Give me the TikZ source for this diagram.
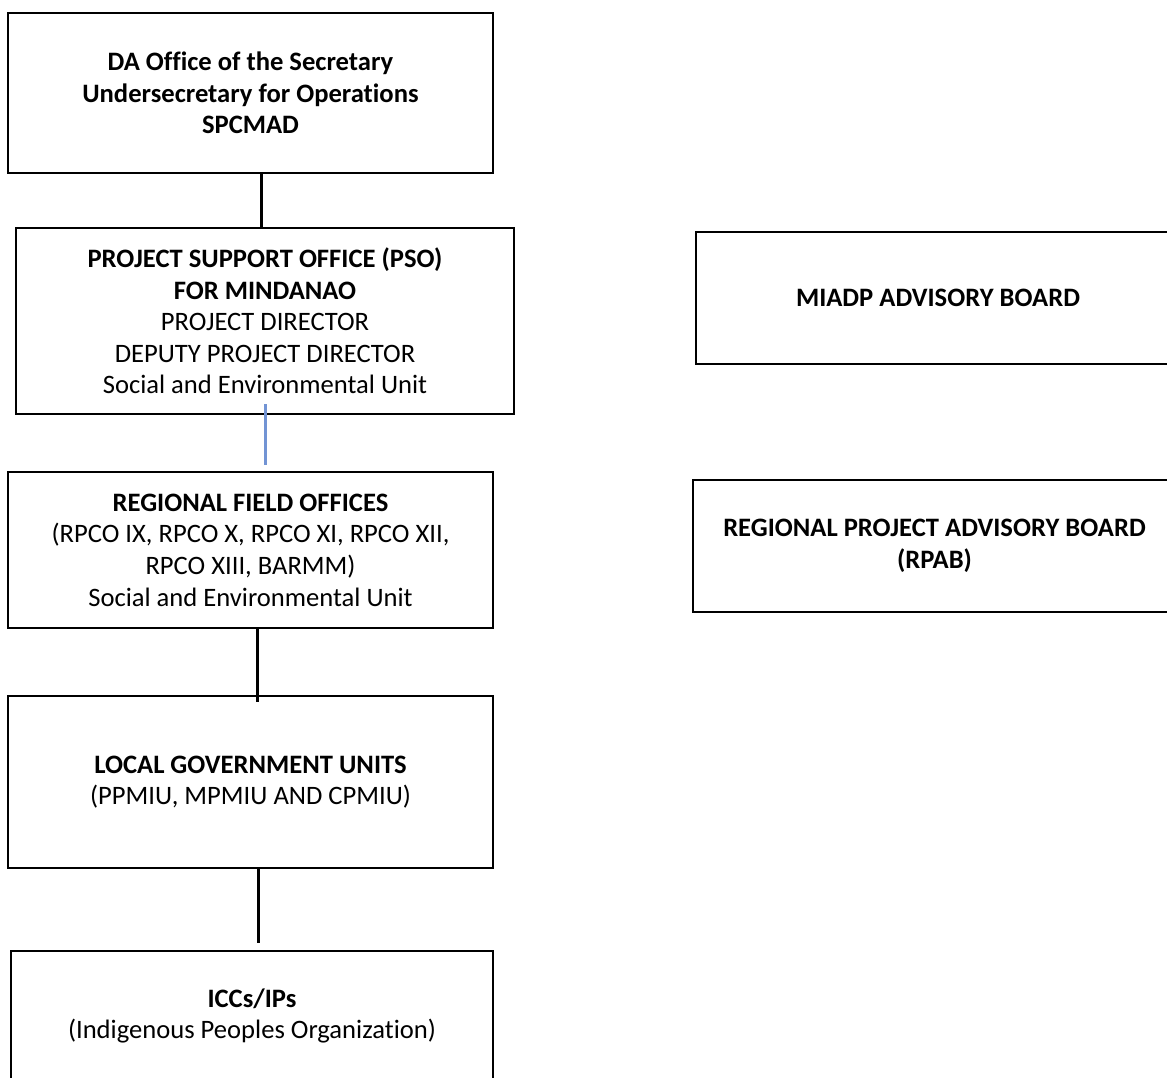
\documentclass[tikz,border=0pt]{standalone}
\usepackage{fontspec}
\setmainfont{Carlito}[Ligatures=NoCommon]
\definecolor{linkblue}{RGB}{114,148,212}
\begin{document}
\begin{tikzpicture}[
        x=0.5pt, y=-0.5pt,
        orgbox/.style={draw, line width=1pt, inner sep=0pt, align=center,
            font=\fontsize{13.3}{15.8}\selectfont},
        link/.style={draw, line width=1.5pt},
        bluelink/.style={draw=linkblue, line width=1.5pt}
    ]
        \clip (0,0) rectangle (1167,1077);
        % left column
        \node[orgbox, minimum width=242.5pt, minimum height=80pt] (dao) at (250.5,93)
            {\textbf{DA Office of the Secretary}\\ \textbf{Undersecretary for Operations}\\ \textbf{SPCMAD}};
        \node[orgbox, minimum width=249pt, minimum height=93pt] (pso) at (265,321)
            {\textbf{PROJECT SUPPORT OFFICE (PSO)}\\ \textbf{FOR MINDANAO}\\ PROJECT DIRECTOR\\ DEPUTY PROJECT DIRECTOR\\ Social and Environmental Unit};
        \node[orgbox, minimum width=242.5pt, minimum height=78pt] (rfo) at (250.5,550)
            {\textbf{REGIONAL FIELD OFFICES}\\ (RPCO IX, RPCO X, RPCO XI, RPCO XII,\\ RPCO XIII, BARMM)\\ Social and Environmental Unit};
        \node[orgbox, minimum width=242.5pt, minimum height=86pt] (lgu) at (250.5,782)
            {\textbf{LOCAL GOVERNMENT UNITS}\\ (PPMIU, MPMIU AND CPMIU)};
        \node[orgbox, minimum width=241pt, minimum height=65pt] (icc) at (252,1016)
            {\textbf{ICCs/IPs}\\ (Indigenous Peoples Organization)};
        % advisory boards
        \node[orgbox, minimum width=242pt, minimum height=66pt] (miadp) at (938,298)
            {\textbf{MIADP ADVISORY BOARD}};
        \node[orgbox, minimum width=241.5pt, minimum height=66pt] (rpab) at (934.5,546)
            {\textbf{REGIONAL PROJECT ADVISORY BOARD}\\ \textbf{(RPAB)}};
        % connectors
        \draw[link] (dao.south -| 261,0) -- (pso.north -| 261,0);
        \draw[bluelink, shorten <=-5.5pt, shorten >=3pt] (pso.south -| 265,0) -- (rfo.north -| 265,0);
        \draw[link, shorten >=-3.5pt] (rfo.south -| 257,0) -- (lgu.north -| 257,0);
        \draw[link, shorten >=3.5pt] (lgu.south -| 258,0) -- (icc.north -| 258,0);
    \end{tikzpicture}
\end{document}
